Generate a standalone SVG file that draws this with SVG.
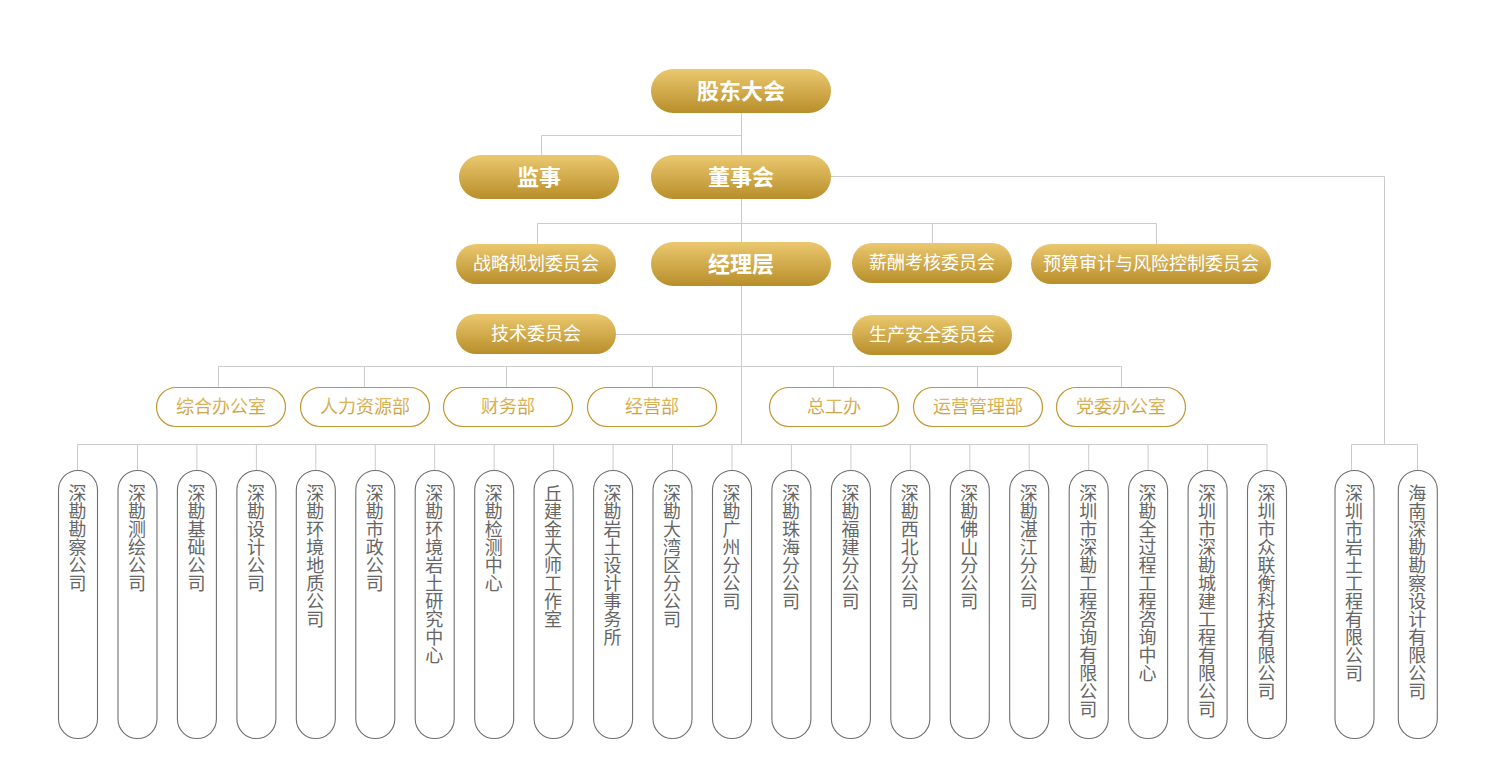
<svg xmlns="http://www.w3.org/2000/svg" width="1494" height="757" viewBox="0 0 1494 757">
<defs>
<linearGradient id="gold" x1="0" y1="0" x2="0" y2="1">
<stop offset="0" stop-color="#ebc86f"/>
<stop offset="1" stop-color="#b88e2a"/>
</linearGradient>
<linearGradient id="goldText" x1="0" y1="0" x2="0" y2="1">
<stop offset="0" stop-color="#e8c46c"/>
<stop offset="1" stop-color="#c59a3a"/>
</linearGradient>
<style>
.g rect{fill:url(#gold);}
.g text{fill:#ffffff;font-family:"Noto Sans CJK SC","Noto Sans",sans-serif;font-size:18px;text-anchor:middle;dominant-baseline:central;}
.g text.big{font-size:22px;font-weight:bold;}
.o rect{fill:#ffffff;stroke:#c29632;stroke-width:1.2;}
.o text{fill:url(#goldText);font-family:"Noto Sans CJK SC","Noto Sans",sans-serif;font-size:18px;text-anchor:middle;dominant-baseline:central;}
.p rect{fill:#ffffff;stroke:#6f6f6f;stroke-width:1.1;}
.p text{fill:#666666;font-family:"Noto Sans CJK SC","Noto Sans",sans-serif;font-size:18px;writing-mode:vertical-rl;text-anchor:start;}
.c path{fill:none;stroke:#cccccc;stroke-width:1;}
</style>
</defs>
<rect width="1494" height="757" fill="#ffffff"/>
<g id="connectors" class="c">
<path d="M741.5 113V444.5"/>
<path d="M541.5 155V135.5H741.5"/>
<path d="M831 176.5H1384.5V444.5"/>
<path d="M1351.5 470V444.5H1417.5V470"/>
<path d="M537.5 244V223.5H1156.5V244M932.5 223.5V243"/>
<path d="M616 334.5H852"/>
<path d="M218.5 387V366.5H1121.5V387M364.5 366.5V387M506.5 366.5V387M652.5 366.5V387M833.5 366.5V387M977.5 366.5V387"/>
<path d="M77.5 470V444.5H1267V470M137.5 444.5V470M196.9 444.5V470M256.4 444.5V470M315.8 444.5V470M375.3 444.5V470M434.7 444.5V470M494.2 444.5V470M553.6 444.5V470M613.1 444.5V470M672.5 444.5V470M732 444.5V470M791.4 444.5V470M850.9 444.5V470M910.3 444.5V470M969.8 444.5V470M1029.2 444.5V470M1088.7 444.5V470M1148.1 444.5V470M1207.6 444.5V470"/>
</g>
<g id="n-gudong" class="g"><rect x="651" y="69" width="180" height="44" rx="22"/><text class="big" x="741" y="88.5">股东大会</text></g>
<g id="n-jianshi" class="g"><rect x="459" y="155" width="160" height="44" rx="22"/><text class="big" x="539" y="174.5">监事</text></g>
<g id="n-dongshihui" class="g"><rect x="651" y="155" width="180" height="44" rx="22"/><text class="big" x="741" y="174.5">董事会</text></g>
<g id="n-zhanlue" class="g"><rect x="456" y="244" width="160" height="40" rx="20"/><text x="536" y="262">战略规划委员会</text></g>
<g id="n-jinglice" class="g"><rect x="651" y="242" width="180" height="44" rx="22"/><text class="big" x="741" y="261.5">经理层</text></g>
<g id="n-xinchou" class="g"><rect x="852" y="243" width="160" height="40" rx="20"/><text x="932" y="261">薪酬考核委员会</text></g>
<g id="n-yusuan" class="g"><rect x="1031" y="244" width="240" height="40" rx="20"/><text x="1151" y="262">预算审计与风险控制委员会</text></g>
<g id="n-jishu" class="g"><rect x="456" y="314" width="160" height="40" rx="20"/><text x="536" y="332">技术委员会</text></g>
<g id="n-shengchan" class="g"><rect x="852" y="315" width="160" height="40" rx="20"/><text x="932" y="333">生产安全委员会</text></g>
<g id="n-zonghe" class="o"><rect x="156.5" y="387.5" width="129" height="39" rx="19.5"/><text x="221" y="405">综合办公室</text></g>
<g id="n-renli" class="o"><rect x="300.5" y="387.5" width="129" height="39" rx="19.5"/><text x="365" y="405">人力资源部</text></g>
<g id="n-caiwu" class="o"><rect x="443.5" y="387.5" width="129" height="39" rx="19.5"/><text x="508" y="405">财务部</text></g>
<g id="n-jingying" class="o"><rect x="587.5" y="387.5" width="129" height="39" rx="19.5"/><text x="652" y="405">经营部</text></g>
<g id="n-zonggong" class="o"><rect x="769.5" y="387.5" width="129" height="39" rx="19.5"/><text x="834" y="405">总工办</text></g>
<g id="n-yunying" class="o"><rect x="913.5" y="387.5" width="129" height="39" rx="19.5"/><text x="978" y="405">运营管理部</text></g>
<g id="n-dangwei" class="o"><rect x="1056.5" y="387.5" width="129" height="39" rx="19.5"/><text x="1121" y="405">党委办公室</text></g>
<g id="p0" class="p"><rect x="58.5" y="470.5" width="39" height="268" rx="19.5"/><text x="77.5" y="484">深勘勘察公司</text></g>
<g id="p1" class="p"><rect x="118" y="470.5" width="39" height="268" rx="19.5"/><text x="137" y="484">深勘测绘公司</text></g>
<g id="p2" class="p"><rect x="177.4" y="470.5" width="39" height="268" rx="19.5"/><text x="196.4" y="484">深勘基础公司</text></g>
<g id="p3" class="p"><rect x="236.9" y="470.5" width="39" height="268" rx="19.5"/><text x="255.9" y="484">深勘设计公司</text></g>
<g id="p4" class="p"><rect x="296.3" y="470.5" width="39" height="268" rx="19.5"/><text x="315.3" y="484">深勘环境地质公司</text></g>
<g id="p5" class="p"><rect x="355.8" y="470.5" width="39" height="268" rx="19.5"/><text x="374.8" y="484">深勘市政公司</text></g>
<g id="p6" class="p"><rect x="415.2" y="470.5" width="39" height="268" rx="19.5"/><text x="434.2" y="484">深勘环境岩土研究中心</text></g>
<g id="p7" class="p"><rect x="474.7" y="470.5" width="39" height="268" rx="19.5"/><text x="493.7" y="484">深勘检测中心</text></g>
<g id="p8" class="p"><rect x="534.1" y="470.5" width="39" height="268" rx="19.5"/><text x="553.1" y="484">丘建金大师工作室</text></g>
<g id="p9" class="p"><rect x="593.6" y="470.5" width="39" height="268" rx="19.5"/><text x="612.6" y="484">深勘岩土设计事务所</text></g>
<g id="p10" class="p"><rect x="653" y="470.5" width="39" height="268" rx="19.5"/><text x="672" y="484">深勘大湾区分公司</text></g>
<g id="p11" class="p"><rect x="712.5" y="470.5" width="39" height="268" rx="19.5"/><text x="731.5" y="484">深勘广州分公司</text></g>
<g id="p12" class="p"><rect x="771.9" y="470.5" width="39" height="268" rx="19.5"/><text x="790.9" y="484">深勘珠海分公司</text></g>
<g id="p13" class="p"><rect x="831.4" y="470.5" width="39" height="268" rx="19.5"/><text x="850.4" y="484">深勘福建分公司</text></g>
<g id="p14" class="p"><rect x="890.8" y="470.5" width="39" height="268" rx="19.5"/><text x="909.8" y="484">深勘西北分公司</text></g>
<g id="p15" class="p"><rect x="950.3" y="470.5" width="39" height="268" rx="19.5"/><text x="969.3" y="484">深勘佛山分公司</text></g>
<g id="p16" class="p"><rect x="1009.7" y="470.5" width="39" height="268" rx="19.5"/><text x="1028.7" y="484">深勘湛江分公司</text></g>
<g id="p17" class="p"><rect x="1069.2" y="470.5" width="39" height="268" rx="19.5"/><text x="1088.2" y="484">深圳市深勘工程咨询有限公司</text></g>
<g id="p18" class="p"><rect x="1128.6" y="470.5" width="39" height="268" rx="19.5"/><text x="1147.6" y="484">深勘全过程工程咨询中心</text></g>
<g id="p19" class="p"><rect x="1188.1" y="470.5" width="39" height="268" rx="19.5"/><text x="1207.1" y="484">深圳市深勘城建工程有限公司</text></g>
<g id="p20" class="p"><rect x="1247.5" y="470.5" width="39" height="268" rx="19.5"/><text x="1266.5" y="484">深圳市众联衡科技有限公司</text></g>
<g id="p21" class="p"><rect x="1335" y="470.5" width="39" height="268" rx="19.5"/><text x="1354" y="484">深圳市岩土工程有限公司</text></g>
<g id="p22" class="p"><rect x="1398.3" y="470.5" width="39" height="268" rx="19.5"/><text x="1417.3" y="484">海南深勘勘察设计有限公司</text></g>
</svg>
